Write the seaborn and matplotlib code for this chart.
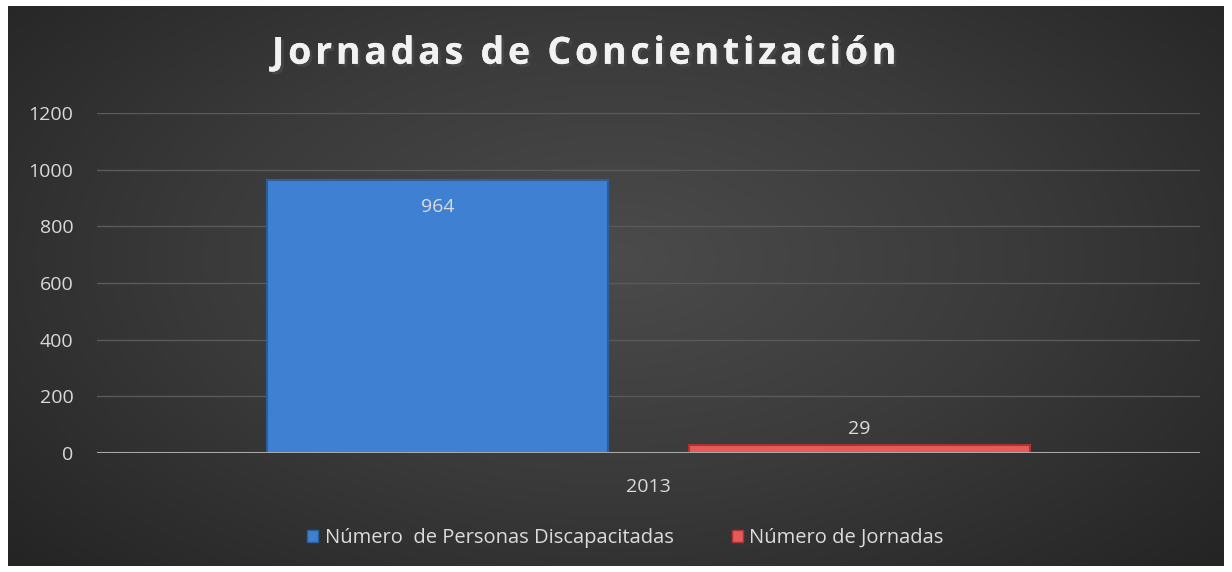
import seaborn as sns
import pandas as pd
import numpy as np
import matplotlib.pyplot as plt
from matplotlib import patheffects
from matplotlib.colors import LinearSegmentedColormap

# data
years = ["2013"]
series = ["Número  de Personas Discapacitadas", "Número de Jornadas"]
values = [964, 29]
colors = ["#3f80d2", "#e85a5a"]
edges = ["#2d5e9c", "#a83434"]

df = pd.DataFrame({"year": years * len(series), "serie": series, "valor": values})

sns.set_theme(style="dark")
plt.rcParams['font.family'] = ['Open Sans', 'DejaVu Sans']

fig = plt.figure(figsize=(12.32, 5.72), dpi=100)
fig.patch.set_facecolor("white")

# dark panel with a soft radial gradient
bg = fig.add_axes([8 / 1232, 6 / 572, 1216 / 1232, 560 / 572])
yy, xx = np.mgrid[0:1:200j, 0:1:400j]
r = np.sqrt(((xx - 0.5) / 0.75) ** 2 + ((yy - 0.45) / 0.9) ** 2)
cmap = LinearSegmentedColormap.from_list("g", ["#4b4b4b", "#3a3a3a", "#242424"])
bg.imshow(np.clip(r, 0, 1), cmap=cmap, aspect="auto", extent=(0, 1, 0, 1))
bg.axis("off")

ax = fig.add_axes([97 / 1232, 1 - 453 / 572, 1103 / 1232, 340 / 572])
ax.set_facecolor("none")

sns.barplot(data=df, x="year", y="valor", hue="serie", palette=colors,
            saturation=1, width=0.765, gap=0.19, ax=ax, legend=True)

for patch, ec in zip(ax.patches[:2], edges):
    patch.set_edgecolor(ec)
    patch.set_linewidth(1.5)

ax.bar_label(ax.containers[0], color="#dcdcdc", fontsize=14, padding=-26)
ax.bar_label(ax.containers[1], color="#dcdcdc", fontsize=14, padding=5)

ax.set_xlim(-0.5, 0.5)
ax.set_ylim(0, 1200)
ax.set_yticks(range(0, 1201, 200))
ax.grid(axis="y", color="#5a5a5a", linewidth=1)
ax.grid(axis="x", visible=False)
ax.axhline(0, color="#a8a8a8", linewidth=1.5, zorder=5)
for s in ax.spines.values():
    s.set_visible(False)
ax.tick_params(colors="#d9d9d9", labelsize=14, length=0)
ax.tick_params(axis="y", pad=17)
ax.tick_params(axis="x", pad=18)
ax.set_xlabel("")
ax.set_ylabel("")

leg = ax.legend(loc="center", bbox_to_anchor=(0.479, -0.25), ncol=2, frameon=False,
                fontsize=14.5, labelcolor="#dcdcdc", handlelength=0.55, handleheight=0.55,
                handletextpad=0.3, columnspacing=2.9)
for h, ec in zip(leg.legend_handles, edges):
    h.set_edgecolor(ec)

title = "\u200a".join("Jornadas de Concientización")
fig.text(0.474, 0.906, title, ha="center", va="center",
         fontsize=27, fontweight="bold", color="#f2f2f2",
         path_effects=[patheffects.withSimplePatchShadow(offset=(2, -2), alpha=0.8),
                       patheffects.Normal()])

fig.savefig("out.png", dpi=100)
